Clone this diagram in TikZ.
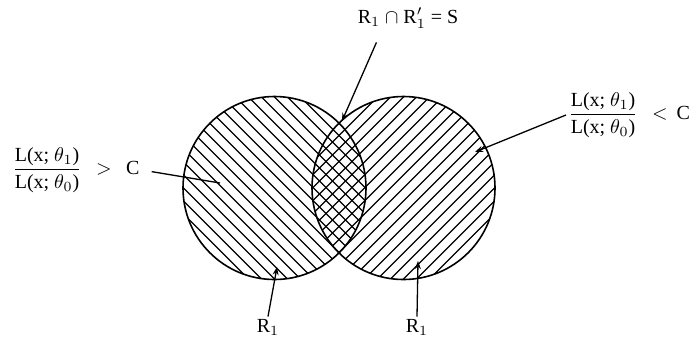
\documentclass[tikz,border=0pt]{standalone}
\usepackage{amsmath}
\usepackage{fontspec}
\setmainfont{Liberation Serif}
\usetikzlibrary{arrows.meta, positioning, calc}

\begin{document}
\begin{tikzpicture}[x=0.5pt, y=-0.5pt, >={Stealth[length=4pt, width=3pt]},
    rim/.style={line width=0.8pt},
    hatch/.style={line width=0.55pt},
    pointer/.style={line width=0.65pt},
    lbl/.style={inner sep=1pt, font=\normalsize}]

\useasboundingbox (0,0) rectangle (694,339);

% Centres of the two regions
\coordinate (cA) at (274.5,188);
\coordinate (cB) at (403.5,188);

% Hatching of the left region
\begin{scope}
  \clip (cA) circle[radius=91.5];
  \foreach \k in {-11,...,11}
    \draw[hatch] ($(cA)+(\k*13-110,-110)$) -- ++(220,220);
\end{scope}

% Hatching of the right region
\begin{scope}
  \clip (cB) circle[radius=91.5];
  \foreach \k in {-11,...,11}
    \draw[hatch] ($(cB)+(\k*13-110,110)$) -- ++(220,-220);
\end{scope}

% Outlines
\draw[rim] (cA) circle[radius=91.5];
\draw[rim] (cB) circle[radius=91.5];

% Labels
\node[lbl, anchor=west] (lgt) at (10,170)
  {$\dfrac{\text{L(x; }\theta_1\text{)}}{\text{L(x; }\theta_0\text{)}}\;\,>\;\,\text{C}$};
\node[lbl, anchor=west] (llt) at (566,115)
  {$\dfrac{\text{L(x; }\theta_1\text{)}}{\text{L(x; }\theta_0\text{)}}\;\,<\,\text{C}$};
\node[lbl] (lS) at (408,18) {R$_1$ $\cap$ R$_1'$ = S};
\node[lbl] (lRa) at (268,327) {R$_1$};
\node[lbl] (lRb) at (417,327) {R$_1$};

% Pointer ends
\coordinate (tA) at (220,183);
\coordinate (tB) at (475,152);
\coordinate (tS) at (342,121);
\coordinate (tRa) at (277,267);
\coordinate (tRb) at (418,261);

% Pointers
\draw[pointer, shorten <=5pt] (lgt.east) -- (tA);
\draw[pointer, ->] (llt.west) -- (tB);
\draw[pointer, ->] ($(lS.south west)!0.2!(lS.south east)+(0,12)$) -- (tS);
\draw[pointer, ->] (lRa.north) -- (tRa);
\draw[pointer, ->] (lRb.north) -- (tRb);

\end{tikzpicture}
\end{document}
